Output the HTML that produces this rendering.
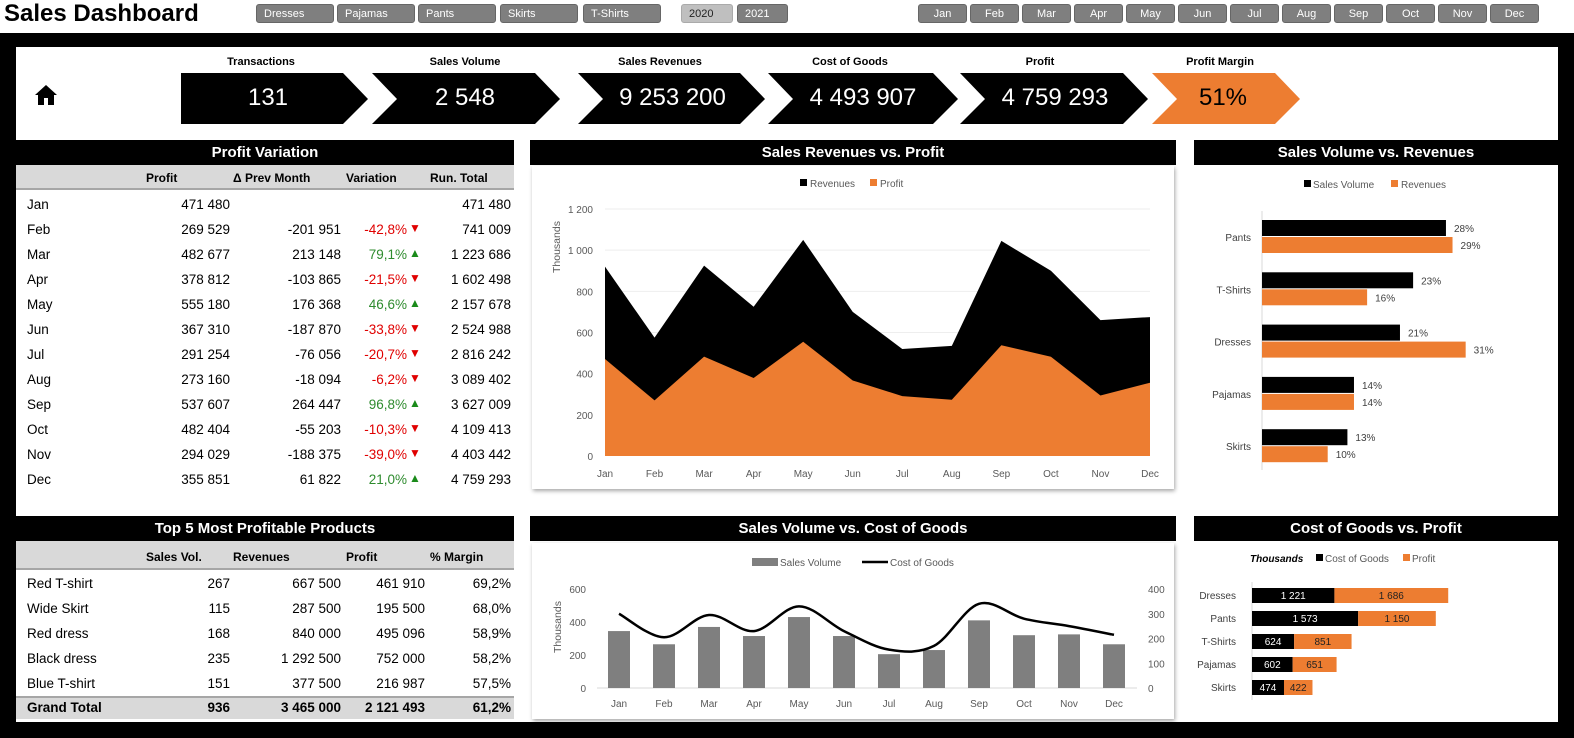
<!DOCTYPE html>
<html><head><meta charset="utf-8">
<style>
*{box-sizing:border-box;margin:0;padding:0}
body{width:1574px;height:738px;background:#fff;position:relative;overflow:hidden;font-family:"Liberation Sans",sans-serif;color:#000}
.abs{position:absolute}
.btn{position:absolute;top:4px;height:19px;background:#7f7f7f;color:#fff;font-size:11px;line-height:19px;padding-left:7px;border-radius:3px;border:1px solid #666}
.btn.m{text-align:center;padding-left:0}
.ttl{position:absolute;background:#000;color:#fff;font-weight:bold;font-size:15px;text-align:center;height:25px;line-height:25px}
.hdr{position:absolute;background:#d9d9d9;border-bottom:2px solid #a6a6a6;font-weight:bold;font-size:13px}
.cell{position:absolute;font-size:13.5px;white-space:nowrap}
.r{text-align:right}
.kl{position:absolute;top:56px;font-size:11px;font-weight:bold;text-align:center}
.kv{position:absolute;top:84px;font-size:24px;color:#fff;text-align:center}
.box{position:absolute;background:#fff;box-shadow:1px 2px 4px rgba(0,0,0,.35)}
</style></head><body>
<div class="abs" style="left:0;top:33px;width:1574px;height:14px;background:#000"></div>
<div class="abs" style="left:0;top:33px;width:16px;height:705px;background:#000"></div>
<div class="abs" style="left:1558px;top:33px;width:16px;height:705px;background:#000"></div>
<div class="abs" style="left:0;top:722px;width:1574px;height:16px;background:#000"></div>

<div class="abs" style="left:4px;top:0px;font-size:24px;font-weight:bold">Sales Dashboard</div>
<div class="btn" style="left:256px;width:78px">Dresses</div>
<div class="btn" style="left:337px;width:78px">Pajamas</div>
<div class="btn" style="left:418px;width:78px">Pants</div>
<div class="btn" style="left:500px;width:78px">Skirts</div>
<div class="btn" style="left:583px;width:78px">T-Shirts</div>
<div class="btn" style="left:681px;width:52px;background:#bfbfbf;color:#222;border-color:#aaa">2020</div>
<div class="btn" style="left:737px;width:51px">2021</div>
<div id="months"></div>

<svg class="abs" style="left:34px;top:84px" width="24" height="22" viewBox="0 0 24 22"><path d="M12 1 L23 11 L20 11 L20 21 L14 21 L14 14 L10 14 L10 21 L4 21 L4 11 L1 11 Z" fill="#000"/></svg>
<svg class="abs" style="left:0;top:0" width="1574" height="140">
<polygon points="181,73 343,73 368,99 343,124 181,124" fill="#000"/>
<polygon points="372,73 535,73 560,99 535,124 372,124 397,99" fill="#000"/>
<polygon points="578,73 740,73 765,99 740,124 578,124 603,99" fill="#000"/>
<polygon points="768,73 933,73 958,99 933,124 768,124 793,99" fill="#000"/>
<polygon points="960,73 1123,73 1148,99 1123,124 960,124 985,99" fill="#000"/>
<polygon points="1152,73 1275,73 1300,99 1275,124 1152,124 1177,99" fill="#ed7d31"/>
</svg>
<div class="kl" style="left:181px;width:160px">Transactions</div>
<div class="kl" style="left:380px;width:170px">Sales Volume</div>
<div class="kl" style="left:580px;width:160px">Sales Revenues</div>
<div class="kl" style="left:770px;width:160px">Cost of Goods</div>
<div class="kl" style="left:960px;width:160px">Profit</div>
<div class="kl" style="left:1150px;width:140px">Profit Margin</div>
<div class="kv" style="left:188px;width:160px">131</div>
<div class="kv" style="left:385px;width:160px">2 548</div>
<div class="kv" style="left:590px;width:165px">9 253 200</div>
<div class="kv" style="left:778px;width:170px">4 493 907</div>
<div class="kv" style="left:970px;width:170px">4 759 293</div>
<div class="kv" style="left:1158px;width:130px;color:#000">51%</div>

<div class="ttl" style="left:16px;top:140px;width:498px">Profit Variation</div>
<div class="hdr" style="left:16px;top:165px;width:498px;height:25px"></div>
<div id="pv"></div>

<div class="ttl" style="left:16px;top:516px;width:498px">Top 5 Most Profitable Products</div>
<div class="hdr" style="left:16px;top:541px;width:498px;height:29px"></div>
<div class="abs" style="left:16px;top:696px;width:498px;height:23px;background:#d9d9d9;border-top:2px solid #a6a6a6"></div>
<div id="t5"></div>

<div class="ttl" style="left:530px;top:140px;width:646px">Sales Revenues vs. Profit</div>
<div class="box" style="left:532px;top:166px;width:642px;height:323px"></div>
<div class="ttl" style="left:530px;top:516px;width:646px">Sales Volume vs. Cost of Goods</div>
<div class="box" style="left:532px;top:543px;width:642px;height:176px"></div>
<div class="ttl" style="left:1194px;top:140px;width:364px">Sales Volume vs. Revenues</div>
<div class="ttl" style="left:1194px;top:516px;width:364px">Cost of Goods vs. Profit</div>

<svg id="charts" class="abs" style="left:0;top:0" width="1574" height="738"></svg>

<script>
const NS='http://www.w3.org/2000/svg';
const svg=document.getElementById('charts');
function el(tag,attrs,parent){const e=document.createElementNS(NS,tag);for(const k in attrs)e.setAttribute(k,attrs[k]);(parent||svg).appendChild(e);return e;}
function txt(x,y,s,attrs){const t=el('text',Object.assign({x:x,y:y,'font-family':'Liberation Sans, sans-serif','font-size':10,fill:'#595959'},attrs||{}));t.textContent=s;return t;}

const monthBtns=['Jan','Feb','Mar','Apr','May','Jun','Jul','Aug','Sep','Oct','Nov','Dec'];
const mb=document.getElementById('months');
monthBtns.forEach((m,i)=>{const d=document.createElement('div');d.className='btn m';d.style.left=(918+i*52)+'px';d.style.width='49px';d.textContent=m;


mb.appendChild(d);});

const pvMonths=monthBtns;
const pvProfit=['471 480','269 529','482 677','378 812','555 180','367 310','291 254','273 160','537 607','482 404','294 029','355 851'];
const pvDelta=['','-201 951','213 148','-103 865','176 368','-187 870','-76 056','-18 094','264 447','-55 203','-188 375','61 822'];
const pvVar=['','-42,8%','79,1%','-21,5%','46,6%','-33,8%','-20,7%','-6,2%','96,8%','-10,3%','-39,0%','21,0%'];
const pvRun=['471 480','741 009','1 223 686','1 602 498','2 157 678','2 524 988','2 816 242','3 089 402','3 627 009','4 109 413','4 403 442','4 759 293'];
const pv=document.getElementById('pv');
function cell(parent,name,left,top,w,text,right,extra){const d=document.createElement('div');d.className='cell'+(right?' r':'');d.style.left=left+'px';d.style.top=top+'px';d.style.width=w+'px';d.textContent=text;if(extra)Object.assign(d.style,extra);


parent.appendChild(d);return d;}
const hs={fontWeight:'bold',fontSize:'12px'};
[['Profit',146],['Δ Prev Month',233],['Variation',346],['Run. Total',430]].forEach(h=>cell(pv,'pv-col-header',h[1],171,100,h[0],false,hs));
pvMonths.forEach((m,i)=>{const y=197+i*25;
cell(pv,'pv-month',27,y,60,m,false);
cell(pv,'pv-profit',130,y,100,pvProfit[i],true);
cell(pv,'pv-delta',230,y,111,pvDelta[i],true);
if(pvVar[i]){const neg=pvVar[i][0]==='-';
cell(pv,'pv-variation',340,y,67,pvVar[i],true,{color:neg?'#e00000':'#2e8b2e'});
cell(pv,'pv-variation-arrow',409,y-1,14,neg?'▼':'▲',false,{color:neg?'#e00000':'#1a8a1a',fontSize:'12px'});}
cell(pv,'pv-run-total',411,y,100,pvRun[i],true);});

const t5Names=['Red T-shirt','Wide Skirt','Red dress','Black dress','Blue T-shirt'];
const t5Vol=['267','115','168','235','151'];
const t5Rev=['667 500','287 500','840 000','1 292 500','377 500'];
const t5Profit=['461 910','195 500','495 096','752 000','216 987'];
const t5Margin=['69,2%','68,0%','58,9%','58,2%','57,5%'];
const t5=document.getElementById('t5');
[['Sales Vol.',146],['Revenues',233],['Profit',346],['% Margin',430]].forEach(h=>cell(t5,'top5-col-header',h[1],550,90,h[0],false,hs));
t5Names.forEach((n,i)=>{const y=576+i*25;
cell(t5,'top5-name',27,y,120,n,false);
cell(t5,'top5-volume',150,y,80,t5Vol[i],true);
cell(t5,'top5-revenue',230,y,111,t5Rev[i],true);
cell(t5,'top5-profit',330,y,95,t5Profit[i],true);
cell(t5,'top5-margin',420,y,91,t5Margin[i],true);});
const b={fontWeight:'bold'};
cell(t5,'total-label',27,700,120,'Grand Total',false,b);
cell(t5,'total-volume',150,700,80,'936',true,b);
cell(t5,'total-revenue',230,700,111,'3 465 000',true,b);
cell(t5,'total-profit',330,700,95,'2 121 493',true,b);
cell(t5,'total-margin',420,700,91,'61,2%',true,b);

const months=monthBtns;
const revenues=[920,575,925,725,1050,700,520,535,1045,900,660,675];
const profits=[471,270,483,379,555,367,291,273,538,482,294,356];
const areaTicks=[0,200,400,600,800,1000,1200];
const areaTickLabels=['0','200','400','600','800','1 000','1 200'];
const ax=i=>605+i*(1150-605)/11, ay=v=>456-v*(456-209)/1200;
areaTicks.forEach((t,i)=>{if(t>0){const l=el('line',{x1:605,x2:1150,y1:ay(t),y2:ay(t),stroke:'#eeeeee'});}
const tl=txt(593,ay(t)+4,areaTickLabels[i],{'text-anchor':'end'});});
function areaPath(vals){let d='M'+ax(0)+','+ay(0);vals.forEach((v,i)=>d+=' L'+ax(i)+','+ay(v));return d+' L'+ax(11)+','+ay(0)+'Z';}
const ar=el('path',{d:areaPath(revenues),fill:'#000'});
const ap=el('path',{d:areaPath(profits),fill:'#ed7d31'});
months.forEach((m,i)=>{const t=txt(ax(i),477,m,{'text-anchor':'middle'});});
const yt=txt(0,0,'Thousands',{transform:'translate(560,273) rotate(-90)','font-size':10.5});
let lg=el('rect',{x:800,y:179,width:7,height:7,fill:'#000'});
lg=txt(810,187,'Revenues');
lg=el('rect',{x:870,y:179,width:7,height:7,fill:'#ed7d31'});
lg=txt(880,187,'Profit');

const salesVolume=[345,265,370,315,430,315,205,230,410,320,325,265];
const costOfGoods=[300,205,295,230,330,230,155,170,340,280,250,215];
const leftTicks=[0,200,400,600];
const rightTicks=[0,100,200,300,400];
const bx=i=>619+i*45, byL=v=>688-v*(688-589)/600, byR=v=>688-v*(688-589)/400;
el('line',{x1:597,x2:1137,y1:688,y2:688,stroke:'#d9d9d9'});
leftTicks.forEach(t=>{const e=txt(586,byL(t)+4,String(t),{'text-anchor':'end'});});
rightTicks.forEach(t=>{const e=txt(1148,byR(t)+4,String(t));});
salesVolume.forEach((v,i)=>{const r=el('rect',{x:bx(i)-11,y:byL(v),width:22,height:688-byL(v),fill:'#7f7f7f'});
const t=txt(bx(i),707,months[i],{'text-anchor':'middle'});});
const pts=costOfGoods.map((v,i)=>[bx(i),byR(v)]);
let d='M'+pts[0][0]+','+pts[0][1];
for(let i=0;i<pts.length-1;i++){const p0=pts[i-1]||pts[i],p1=pts[i],p2=pts[i+1],p3=pts[i+2]||p2;
d+=' C'+(p1[0]+(p2[0]-p0[0])/6)+','+(p1[1]+(p2[1]-p0[1])/6)+' '+(p2[0]-(p3[0]-p1[0])/6)+','+(p2[1]-(p3[1]-p1[1])/6)+' '+p2[0]+','+p2[1];}
const ln=el('path',{d:d,fill:'none',stroke:'#000','stroke-width':2.5});
const yt2=txt(0,0,'Thousands',{transform:'translate(561,653) rotate(-90)','font-size':10.5});
lg=el('rect',{x:752,y:558,width:26,height:8,fill:'#7f7f7f'});
lg=txt(780,566,'Sales Volume');
lg=el('line',{x1:862,x2:888,y1:562,y2:562,stroke:'#000','stroke-width':2.5});
lg=txt(890,566,'Cost of Goods');

const cats3=['Pants','T-Shirts','Dresses','Pajamas','Skirts'];
const volShare=[28,23,21,14,13];
const revShare=[29,16,31,14,10];
const hx=v=>1262+v*6.57, hy=i=>237+i*52.3;
el('line',{x1:1262,x2:1262,y1:211,y2:470,stroke:'#d9d9d9'});
cats3.forEach((c,i)=>{const y=hy(i);
let e=el('rect',{x:1262,y:y-17,width:hx(volShare[i])-1262,height:16,fill:'#000'});
e=el('rect',{x:1262,y:y,width:hx(revShare[i])-1262,height:16,fill:'#ed7d31'});
e=txt(hx(volShare[i])+8,y-5,volShare[i]+'%',{fill:'#404040'});
e=txt(hx(revShare[i])+8,y+12,revShare[i]+'%',{fill:'#404040'});
e=txt(1251,y+4,c,{'text-anchor':'end',fill:'#404040'});});
lg=el('rect',{x:1304,y:180,width:7,height:7,fill:'#000'});
lg=txt(1313,188,'Sales Volume');
lg=el('rect',{x:1391,y:180,width:7,height:7,fill:'#ed7d31'});
lg=txt(1401,188,'Revenues');

const cats4=['Dresses','Pants','T-Shirts','Pajamas','Skirts'];
const cogsVals=[1221,1573,624,602,474];
const profitVals=[1686,1150,851,651,422];
const cogsLabels=['1 221','1 573','624','602','474'];
const profitLabels=['1 686','1 150','851','651','422'];
const sx=v=>1252+v*0.0675, sy=i=>595+i*23;
el('line',{x1:1252,x2:1252,y1:582,y2:700,stroke:'#d9d9d9'});
cats4.forEach((c,i)=>{const y=sy(i);const x1=sx(cogsVals[i]),x2=sx(cogsVals[i]+profitVals[i]);
let e=el('rect',{x:1252,y:y-7,width:x1-1252,height:15,fill:'#000'});
e=el('rect',{x:x1,y:y-7,width:x2-x1,height:15,fill:'#ed7d31'});
e=txt((1252+x1)/2,y+4,cogsLabels[i],{'text-anchor':'middle',fill:'#fff'});
e=txt((x1+x2)/2,y+4,profitLabels[i],{'text-anchor':'middle',fill:'#222'});
e=txt(1236,y+4,c,{'text-anchor':'end',fill:'#404040'});});
lg=txt(1250,562,'Thousands',{'font-weight':'bold','font-style':'italic',fill:'#000'});
lg=el('rect',{x:1316,y:554,width:7,height:7,fill:'#000'});
lg=txt(1325,562,'Cost of Goods');
lg=el('rect',{x:1403,y:554,width:7,height:7,fill:'#ed7d31'});
lg=txt(1412,562,'Profit');
</script>
</body></html>
